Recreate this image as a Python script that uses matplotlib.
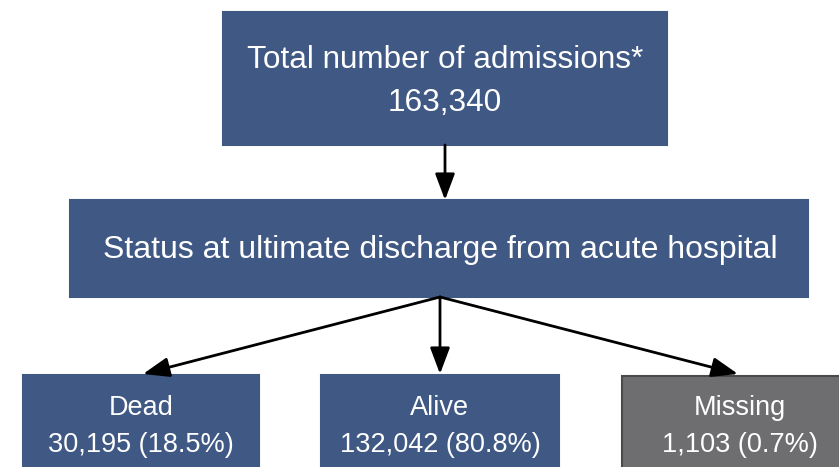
import matplotlib.pyplot as plt
from matplotlib.patches import Rectangle, FancyArrowPatch

# flowchart data
total_label = 'Total number of admissions*'
total_count = 163340
status_label = 'Status at ultimate discharge from acute hospital'
outcomes = ['Dead', 'Alive', 'Missing']
outcome_counts = [30195, 132042, 1103]
outcome_pct = [18.5, 80.8, 0.7]

BLUE = '#3f5884'
GRAY = '#6e6e70'
FONT = ['Liberation Sans', 'DejaVu Sans']

fig = plt.figure(figsize=(8.39, 4.67), dpi=100)
ax = fig.add_axes([0, 0, 1, 1])
ax.set_xlim(0, 839)
ax.set_ylim(467, 0)
ax.axis('off')


def box(x0, y0, x1, y1, color, edge=None):
    ax.add_patch(Rectangle((x0, y0), x1 - x0, y1 - y0, facecolor=color,
                           edgecolor=edge or color, lw=1.5, zorder=2))


def arrow(p0, p1):
    ax.add_patch(FancyArrowPatch(p0, p1,
                                 arrowstyle='-|>,head_length=0.8,head_width=0.3',
                                 mutation_scale=20, color='black', lw=2,
                                 shrinkA=0, shrinkB=0, zorder=3))


# top box
box(223, 12, 667, 145, BLUE)
ax.text(445, 60, total_label, color='white', fontsize=22.7, family=FONT,
        ha='center', va='center')
ax.text(445, 103, f'{total_count:,}', color='white', fontsize=22.7, family=FONT,
        ha='center', va='center')

# middle box
box(70, 200, 808, 297, BLUE)
ax.text(440, 250, status_label, color='white', fontsize=23, family=FONT,
        ha='center', va='center')

arrow((445, 145), (445, 200))

# bottom boxes
bottom_x = [(23, 259), (321, 559), (622, 845)]
targets = [143, 440, 738]
for i, name in enumerate(outcomes):
    x0, x1 = bottom_x[i]
    if name == 'Missing':
        box(x0, 376, x1, 480, GRAY, edge='#4a4a4c')
    else:
        box(x0, 375, x1, 480, BLUE)
    cx = (x0 + x1) / 2 if name != 'Missing' else 740
    ax.text(cx, 408, name, color='white', fontsize=19.5, family=FONT,
            ha='center', va='center')
    ax.text(cx, 445, f'{outcome_counts[i]:,} ({outcome_pct[i]}%)', color='white',
            fontsize=19.5, family=FONT, ha='center', va='center')
    arrow((440, 297), (targets[i], 374))

fig.savefig('out.png', dpi=100)
